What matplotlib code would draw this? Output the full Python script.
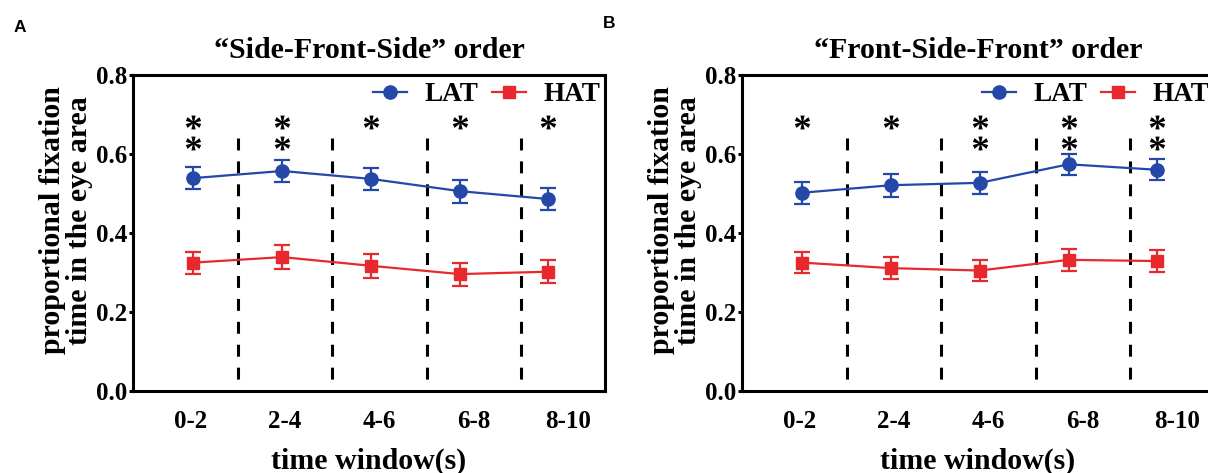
import numpy as np
import matplotlib
matplotlib.use("Agg")
import matplotlib.pyplot as plt
from matplotlib.lines import Line2D
from matplotlib.path import Path
from matplotlib.textpath import TextPath
from matplotlib.font_manager import FontProperties

plt.rcParams["font.family"] = "Liberation Serif"
plt.rcParams["font.weight"] = "bold"

windows = ["0-2", "2-4", "4-6", "6-8", "8-10"]

# "Side-Front-Side" order
sfs_lat = [0.539, 0.557, 0.537, 0.506, 0.486]
sfs_lat_err = [0.027, 0.027, 0.028, 0.029, 0.027]
sfs_hat = [0.325, 0.339, 0.317, 0.296, 0.302]
sfs_hat_err = [0.028, 0.031, 0.030, 0.029, 0.029]
sfs_stars = [2, 2, 1, 1, 1]

# "Front-Side-Front" order
fsf_lat = [0.502, 0.521, 0.527, 0.574, 0.560]
fsf_lat_err = [0.028, 0.029, 0.028, 0.027, 0.027]
fsf_hat = [0.325, 0.311, 0.305, 0.332, 0.329]
fsf_hat_err = [0.027, 0.027, 0.027, 0.028, 0.028]
fsf_stars = [1, 1, 2, 2, 2]

BLUE = "#2447a8"
RED = "#e8282d"


def star_marker():
    # asterisk glyph as a centred marker path
    tp = TextPath((0, 0), "*", prop=FontProperties(family="Liberation Serif", weight="bold"), size=1)
    ext = tp.get_extents()
    verts = tp.vertices - [(ext.x0 + ext.x1) / 2, (ext.y0 + ext.y1) / 2]
    codes = tp.codes
    verts[codes == Path.CLOSEPOLY] = 0
    return Path(verts, codes)


STAR = star_marker()


def draw_panel(ax, title, lat, lat_err, hat, hat_err, stars):
    tick_x = np.arange(1, len(windows) + 1)
    # points sit slightly off the category centres in the original
    point_x = 1.03 + 0.94 * np.arange(len(windows))

    for bx in tick_x[:-1] + 0.5:
        ax.plot([bx, bx], [0.64, 0], color="black", lw=2.2,
                ls=(0, (3.9, 3.6)), zorder=1)

    ax.errorbar(point_x, lat, yerr=lat_err, color=BLUE, marker="o", ms=9.5,
                lw=1.6, elinewidth=1.6, capsize=5.5, capthick=1.6, zorder=3)
    ax.errorbar(point_x, hat, yerr=hat_err, color=RED, marker="s", ms=9,
                lw=1.6, elinewidth=1.6, capsize=5.5, capthick=1.6, zorder=3)

    for x, n in zip(point_x, stars):
        ys = [0.681, 0.628][:n]
        ax.plot([x] * n, ys, ls="none", marker=STAR, ms=11, mew=0, color="black")

    ax.set_xlim(0.39, 5.39)
    ax.set_ylim(0, 0.8)
    ax.set_xticks(tick_x)
    ax.set_xticklabels(windows)
    ax.set_yticks([0, 0.2, 0.4, 0.6, 0.8])
    ax.set_yticklabels(["0.0", "0.2", "0.4", "0.6", "0.8"])
    ax.tick_params(axis="x", length=0, pad=14, labelsize=18)
    ax.tick_params(axis="y", length=3, width=2.2, pad=1, labelsize=18)
    for sp in ax.spines.values():
        sp.set_linewidth(2.2)

    ax.set_title(title, fontsize=21.5, fontweight="bold", pad=12)
    ax.set_xlabel("time window(s)", fontsize=21.5, fontweight="bold", labelpad=10)
    ax.set_ylabel("proportional fixation\ntime in the eye area", fontsize=21.5,
                  fontweight="bold", linespacing=1.0)
    ax.yaxis.set_label_coords(-0.085, 0.54)

    handles = [
        Line2D([], [], color=BLUE, marker="o", ms=9.5, lw=1.6),
        Line2D([], [], color=RED, marker="s", ms=9, lw=1.6),
    ]
    ax.legend(handles, ["LAT", "HAT"], loc="center right", bbox_to_anchor=(0.99, 0.937),
              ncol=2, frameon=False, fontsize=19.5, handlelength=1.25,
              handletextpad=0.65, columnspacing=0.5, borderpad=0, borderaxespad=0)


fig = plt.figure(figsize=(12.08, 4.73), dpi=100)
ax_a = fig.add_axes([133 / 1208, 82 / 473, 472 / 1208, 316 / 473])
ax_b = fig.add_axes([742 / 1208, 82 / 473, 472 / 1208, 316 / 473])

draw_panel(ax_a, "\u201cSide-Front-Side\u201d order", sfs_lat, sfs_lat_err,
           sfs_hat, sfs_hat_err, sfs_stars)
draw_panel(ax_b, "\u201cFront-Side-Front\u201d order", fsf_lat, fsf_lat_err,
           fsf_hat, fsf_hat_err, fsf_stars)

fig.text(20 / 1208, 1 - 28 / 473, "A", family="Liberation Sans", fontweight="bold",
         fontsize=12.5, ha="center", va="center")
fig.text(609 / 1208, 1 - 24 / 473, "B", family="Liberation Sans", fontweight="bold",
         fontsize=12.5, ha="center", va="center")

fig.savefig("out.png", dpi=100)
